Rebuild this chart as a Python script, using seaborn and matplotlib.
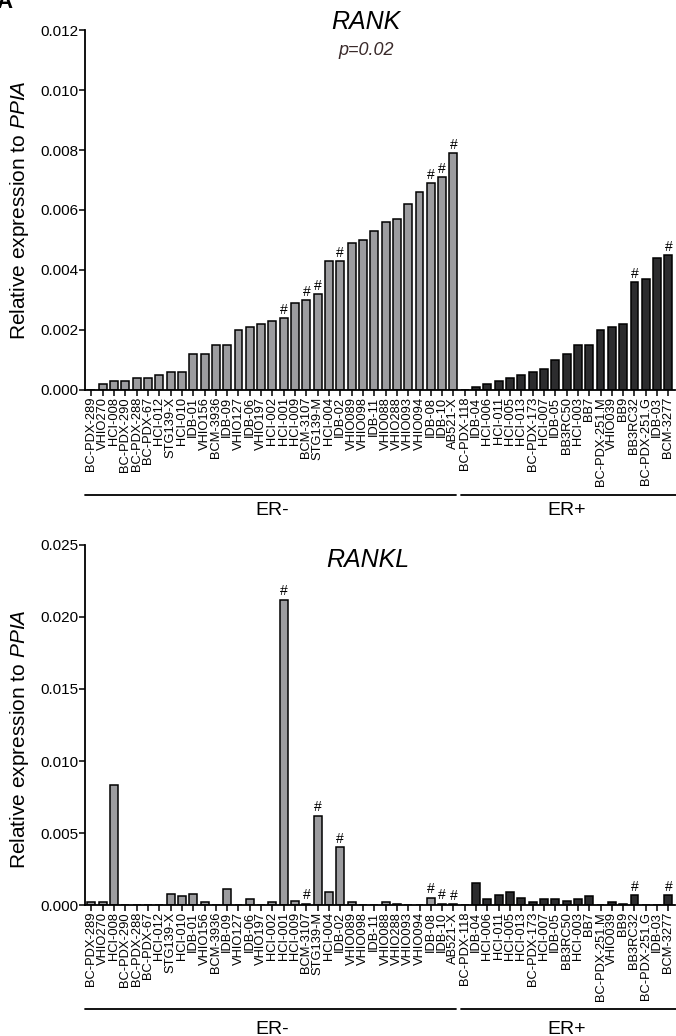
import pandas as pd
import numpy as np
import matplotlib
matplotlib.use("Agg")
import matplotlib.pyplot as plt
import seaborn as sns

er_neg = ["BC-PDX-289", "VHIO270", "HCI-008", "BC-PDX-290", "BC-PDX-288", "BC-PDX-67",
          "HCI-012", "STG139-X", "HCI-010", "IDB-01", "VHIO156", "BCM-3936", "IDB-09",
          "VHIO127", "IDB-06", "VHIO197", "HCI-002", "HCI-001", "HCI-009", "BCM-3107",
          "STG139-M", "HCI-004", "IDB-02", "VHIO089", "VHIO098", "IDB-11", "VHIO088",
          "VHIO288", "VHIO093", "VHIO094", "IDB-08", "IDB-10", "AB521-X"]
er_pos = ["BC-PDX-118", "IDB-04", "HCI-006", "HCI-011", "HCI-005", "HCI-013", "BC-PDX-173",
          "HCI-007", "IDB-05", "BB3RC50", "HCI-003", "BB7", "BC-PDX-251.M", "VHIO039",
          "BB9", "BB3RC32", "BC-PDX-251.G", "IDB-03", "BCM-3277"]

rank_neg = [0.0, 0.0002, 0.0003, 0.0003, 0.0004, 0.0004, 0.0005, 0.0006, 0.0006, 0.0012,
            0.0012, 0.0015, 0.0015, 0.0020, 0.0021, 0.0022, 0.0023, 0.0024, 0.0029, 0.0030,
            0.0032, 0.0043, 0.0043, 0.0049, 0.0050, 0.0053, 0.0056, 0.0057, 0.0062, 0.0066,
            0.0069, 0.0071, 0.0079]
rank_pos = [0.0, 0.0001, 0.0002, 0.0003, 0.0004, 0.0005, 0.0006, 0.0007, 0.0010, 0.0012,
            0.0015, 0.0015, 0.0020, 0.0021, 0.0022, 0.0036, 0.0037, 0.0044, 0.0045]

rankl_neg = [0.0002, 0.0002, 0.0083, 0.0, 0.0, 0.0, 0.0, 0.0008, 0.0006, 0.0008,
             0.0002, 0.0, 0.0011, 0.0, 0.0004, 0.0, 0.0002, 0.0212, 0.0003, 0.0001,
             0.0062, 0.0009, 0.0040, 0.0002, 0.0, 0.0, 0.0002, 0.0001, 0.0, 0.0,
             0.0005, 0.0001, 0.00005]
rankl_pos = [0.0, 0.0015, 0.0004, 0.0007, 0.0009, 0.0005, 0.0002, 0.0004, 0.0004, 0.0003,
             0.0004, 0.0006, 0.0, 0.0002, 0.0001, 0.0007, 0.0, 0.0, 0.0007]

# samples marked with '#'
marked = ["HCI-001", "BCM-3107", "STG139-M", "IDB-02", "IDB-08", "IDB-10", "AB521-X",
          "BB3RC32", "BCM-3277"]

df = pd.DataFrame({
    "sample": er_neg + er_pos,
    "group": ["ER-"] * len(er_neg) + ["ER+"] * len(er_pos),
    "RANK": rank_neg + rank_pos,
    "RANKL": rankl_neg + rankl_pos,
})

sns.set_style("ticks")
plt.rcParams['font.family'] = ['Liberation Sans', 'DejaVu Sans']
plt.rcParams['mathtext.fontset'] = 'custom'
plt.rcParams['mathtext.rm'] = 'Liberation Sans'
plt.rcParams['mathtext.it'] = 'Liberation Sans:italic'
for k in ['text.color', 'axes.labelcolor', 'xtick.color', 'ytick.color', 'axes.edgecolor']:
    plt.rcParams[k] = 'black'

fig = plt.figure(figsize=(6.76, 10.36), dpi=100)
ax1 = fig.add_axes([0.126, 0.6236, 0.872, 0.3474])
ax2 = fig.add_axes([0.126, 0.1264, 0.872, 0.3476])

palette = {"ER-": "#9b9ca0", "ER+": "#2c2c2e"}
n = len(df)

panels = [
    (ax1, "RANK", 0.012, 0.002, -0.292, -0.336, 0.5),
    (ax2, "RANKL", 0.025, 0.005, -0.289, -0.345, 0.46),
]

for ax, gene, ymax, step, line_y, text_y, lab_y in panels:
    sns.barplot(data=df, x="sample", y=gene, hue="group", palette=palette, dodge=False,
                width=0.7, edgecolor="black", linewidth=1.1, legend=False, ax=ax)
    ax.set_xlim(-0.55, n - 0.45)
    ax.set_ylim(0, ymax)
    ax.set_yticks(np.arange(0, ymax + step / 2, step))
    ax.set_yticklabels([f"{v:.3f}" for v in np.arange(0, ymax + step / 2, step)], fontsize=11)
    ax.tick_params(axis="x", labelrotation=90, labelsize=9.3, length=4, width=1.1, pad=1)
    ax.tick_params(axis="y", length=4, width=1.1, pad=1)
    ax.set_xlabel("")
    ax.set_ylabel("Relative expression to $\\mathit{PPIA}$", fontsize=15)
    ax.yaxis.set_label_coords(-0.092, lab_y)
    for s in ["top", "right"]:
        ax.spines[s].set_visible(False)
    for s in ["left", "bottom"]:
        ax.spines[s].set_linewidth(1.3)

    # '#' marks above bars
    for i, row in df.iterrows():
        if row["sample"] in marked:
            ax.annotate("#", (i, row[gene]), xytext=(0, 1), textcoords="offset points",
                        ha="center", va="bottom", fontsize=10, color="black")

    # group brackets below the labels
    trans = ax.get_xaxis_transform()
    nneg = len(er_neg)
    ax.plot([-0.6, nneg - 0.75], [line_y, line_y], color="black", lw=1.3,
            transform=trans, clip_on=False)
    ax.plot([nneg - 0.35, n - 0.3], [line_y, line_y], color="black", lw=1.3,
            transform=trans, clip_on=False)
    ax.text((nneg - 1) / 2, text_y, "ER-", transform=trans, ha="center", va="center",
            fontsize=14)
    ax.text(nneg + (len(er_pos) - 1) / 2, text_y, "ER+", transform=trans, ha="center",
            va="center", fontsize=14)

ax1.text(0.477, 1.022, "RANK", transform=ax1.transAxes, ha="center", va="center",
         fontsize=18, style="italic")
ax1.text(0.477, 0.944, "p=0.02", transform=ax1.transAxes, ha="center", va="center",
         fontsize=13, style="italic", color="#3a2a2a")
ax2.text(0.48, 0.958, "RANKL", transform=ax2.transAxes, ha="center", va="center",
         fontsize=18, style="italic")

fig.text(-0.006, 1.008, "A", ha="left", va="top", fontsize=16, fontweight="bold")

fig.savefig("out.png", dpi=100)
